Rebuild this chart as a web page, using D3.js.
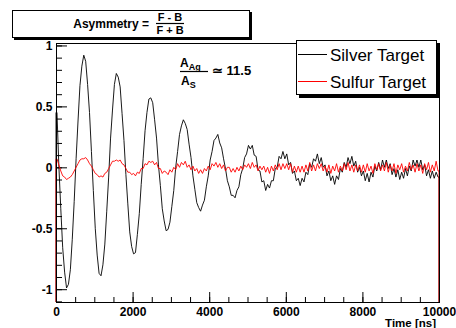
<!DOCTYPE html>
<html>
<head>
<meta charset="utf-8">
<script src="https://cdn.jsdelivr.net/npm/d3@7"></script>
<style>
  body { margin: 0; background: #fff; }
  text { font-family: "Liberation Sans", Arial, Helvetica, sans-serif; }
</style>
</head>
<body>
<div id="chart"></div>
<script>
// bin width in ns, bins start at 0
const binWidth = 50;

// asymmetry per 50 ns bin
const silver = [
  0.45, 0.01, -0.34, -0.66, -0.86, -0.99, -0.96, -0.84, -0.59, -0.28,
  0.07, 0.38, 0.67, 0.83, 0.92, 0.87, 0.68, 0.45, 0.13, -0.19,
  -0.50, -0.72, -0.87, -0.89, -0.80, -0.63, -0.36, -0.08, 0.24, 0.47,
  0.68, 0.77, 0.74, 0.66, 0.44, 0.22, -0.06, -0.30, -0.53, -0.65,
  -0.71, -0.70, -0.55, -0.38, -0.14, 0.07, 0.30, 0.45, 0.56, 0.57,
  0.53, 0.39, 0.24, 0.02, -0.15, -0.34, -0.44, -0.52, -0.51, -0.45,
  -0.32, -0.19, 0.00, 0.13, 0.27, 0.34, 0.39, 0.36, 0.31, 0.19,
  0.08, -0.07, -0.18, -0.29, -0.33, -0.36, -0.31, -0.27, -0.16, -0.07,
  0.06, 0.13, 0.22, 0.24, 0.27, 0.20, 0.16, 0.07, -0.01, -0.11,
  -0.16, -0.23, -0.23, -0.25, -0.19, -0.16, -0.06, -0.01, 0.08, 0.11,
  0.18, 0.15, 0.18, 0.10, 0.09, -0.02, -0.03, -0.12, -0.11, -0.19,
  -0.14, -0.17, -0.11, -0.11, -0.01, 0.00, 0.09, 0.07, 0.13, 0.07,
  0.11, 0.02, 0.04, -0.05, -0.03, -0.11, -0.09, -0.15, -0.09, -0.12,
  -0.04, -0.06, 0.03, 0.00, 0.07, 0.05, 0.11, 0.03, 0.08, 0.00,
  0.02, -0.07, -0.03, -0.11, -0.07, -0.14, -0.07, -0.10, -0.01, -0.04,
  0.04, 0.00, 0.08, 0.03, 0.09, 0.01, 0.05, -0.04, 0.00, -0.07,
  -0.03, -0.11, -0.05, -0.12, -0.04, -0.08, 0.01, -0.03, 0.04, -0.02,
  0.06, 0.00, 0.06, -0.01, 0.03, -0.06, -0.01, -0.08, -0.02, -0.10,
  -0.04, -0.09, -0.01, -0.07, 0.01, -0.03, 0.06, 0.01, 0.06, 0.00,
  0.06, -0.02, 0.02, -0.07, -0.02, -0.09, -0.03, -0.09, -0.04, -0.08
];

const sulfur = [
  0.07, 0.02, -0.03, -0.07, -0.08, -0.10, -0.09, -0.08, -0.06, -0.03,
  0.00, 0.03, 0.06, 0.07, 0.07, 0.08, 0.06, 0.03, 0.01, -0.02,
  -0.05, -0.06, -0.08, -0.07, -0.08, -0.05, -0.04, -0.01, 0.02, 0.05,
  0.05, 0.06, 0.05, 0.06, 0.03, 0.02, -0.01, -0.04, -0.04, -0.06,
  -0.05, -0.07, -0.04, -0.05, -0.01, -0.01, 0.03, 0.02, 0.05, 0.04,
  0.05, 0.02, 0.04, -0.01, -0.01, -0.05, -0.03, -0.04, -0.06, -0.02,
  -0.04, 0.00, -0.02, 0.03, 0.00, 0.04, 0.02, 0.05, 0.00, 0.02,
  -0.02, 0.01, -0.03, -0.01, -0.05, -0.02, -0.05, -0.01, -0.03, 0.01,
  -0.02, 0.03, 0.01, 0.04, 0.00, 0.03, -0.01, 0.02, -0.03, 0.00,
  0.00, -0.04, -0.01, -0.04, 0.00, -0.03, 0.01, -0.02, 0.02, 0.00,
  0.03, -0.01, 0.04, 0.00, 0.02, -0.03, 0.01, -0.02, 0.01, -0.04,
  0.00, -0.05, 0.01, -0.03, 0.02, -0.02, 0.03, -0.02, 0.03, -0.01,
  0.03, -0.02, 0.03, -0.04, 0.01, -0.04, 0.01, -0.04, 0.01, -0.04,
  0.02, -0.03, 0.04, -0.03, 0.02, -0.03, 0.03, -0.01, 0.03, -0.03,
  0.01, -0.04, 0.02, -0.05, 0.01, -0.03, 0.03, -0.04, 0.01, -0.03,
  0.03, -0.02, 0.04, -0.03, 0.02, -0.04, 0.02, -0.03, 0.02, -0.04,
  0.02, -0.04, 0.03, -0.03, 0.01, -0.05, 0.03, -0.02, 0.03, -0.03,
  0.02, -0.03, 0.04, -0.04, 0.02, -0.03, 0.03, -0.05, 0.02, -0.02,
  0.03, -0.04, 0.01, -0.03, 0.04, -0.02, 0.02, -0.04, 0.03, -0.03,
  0.02, -0.05, 0.03, -0.02, 0.04, -0.04, 0.02, -0.03, 0.05, -0.03
];

const xTicks = [0, 2000, 4000, 6000, 8000, 10000];
const xMinorTicks = d3.range(0, 10001, 500);
const yTicks = [-1, -0.5, 0, 0.5, 1];
const yMinorTicks = d3.range(-11, 11).map(d => d / 10);
const seriesNames = ["Silver Target", "Sulfur Target"];
const seriesColors = ["#000000", "#ff0000"];

const width = 456, height = 328;
const margin = { top: 43, right: 17, bottom: 26, left: 56 };
const innerW = width - margin.left - margin.right;
const innerH = height - margin.top - margin.bottom;

const svg = d3.select("#chart").append("svg")
  .attr("width", width)
  .attr("height", height);

// title pave
svg.append("rect").attr("x", 14).attr("y", 12).attr("width", 238).attr("height", 28).attr("fill", "#000");
svg.append("rect").attr("x", 12.5).attr("y", 10.5).attr("width", 237).attr("height", 27)
  .attr("fill", "#fff").attr("stroke", "#000");
svg.append("text").attr("x", 149).attr("y", 28).attr("text-anchor", "end")
  .attr("font-size", 12).attr("font-weight", "bold").text("Asymmetry =");
svg.append("text").attr("x", 170).attr("y", 21).attr("text-anchor", "middle")
  .attr("font-size", 11).attr("font-weight", "bold").text("F - B");
svg.append("line").attr("x1", 156).attr("x2", 184).attr("y1", 23.5).attr("y2", 23.5)
  .attr("stroke", "#000").attr("stroke-width", 1.2);
svg.append("text").attr("x", 170).attr("y", 33.5).attr("text-anchor", "middle")
  .attr("font-size", 11).attr("font-weight", "bold").text("F + B");

const g = svg.append("g")
  .attr("transform", `translate(${margin.left},${margin.top})`);

const x = d3.scaleLinear().domain([0, 10000]).range([0, innerW]);
const y = d3.scaleLinear().domain([-1.105, 1.02]).range([innerH, 0]);

// minor ticks
g.append("g")
  .attr("transform", `translate(0,${innerH})`)
  .call(d3.axisBottom(x).tickValues(xMinorTicks).tickSizeInner(-5).tickSizeOuter(0).tickFormat(""))
  .call(a => a.select(".domain").remove());
g.append("g")
  .call(d3.axisLeft(y).tickValues(yMinorTicks).tickSizeInner(-6).tickSizeOuter(0).tickFormat(""))
  .call(a => a.select(".domain").remove());

// major ticks + labels
g.append("g")
  .attr("transform", `translate(0,${innerH})`)
  .call(d3.axisBottom(x).tickValues(xTicks).tickSizeInner(-10).tickSizeOuter(0)
    .tickPadding(5).tickFormat(d => String(d)))
  .call(a => a.select(".domain").remove())
  .call(a => a.selectAll("text").attr("font-size", 12).attr("font-weight", "bold")
    .attr("fill", "#000").style("font-family", "'Liberation Sans', Arial, sans-serif"));
g.append("g")
  .call(d3.axisLeft(y).tickValues(yTicks).tickSizeInner(-11).tickSizeOuter(0)
    .tickPadding(3.5).tickFormat(d => String(d)))
  .call(a => a.select(".domain").remove())
  .call(a => a.selectAll("text").attr("font-size", 12).attr("font-weight", "bold")
    .attr("fill", "#000").style("font-family", "'Liberation Sans', Arial, sans-serif"));

// histograms: line through bin centres, dropping to the frame bottom at both ends
const line = d3.line()
  .x(d => x(d[0]))
  .y(d => y(d[1]));

function outline(values) {
  const yb = y.domain()[0];
  const n = values.length;
  const pts = [[0, yb], [0, values[0]]];
  values.forEach((v, i) => pts.push([(i + 0.5) * binWidth, v]));
  pts.push([n * binWidth, values[n - 1]]);
  pts.push([n * binWidth, yb]);
  return pts;
}

[silver, sulfur].forEach((vals, k) => {
  g.append("path")
    .datum(outline(vals))
    .attr("fill", "none")
    .attr("stroke", seriesColors[k])
    .attr("stroke-width", 0.9)
    .attr("stroke-linejoin", "round")
    .attr("d", line);
});

// frame
g.append("rect")
  .attr("x", 0.5).attr("y", 0.5)
  .attr("width", innerW).attr("height", innerH)
  .attr("fill", "none").attr("stroke", "#000").attr("stroke-width", 1);

// axis title
svg.append("text")
  .attr("x", margin.left + innerW - 3).attr("y", 327)
  .attr("text-anchor", "end").attr("font-size", 11.5).attr("font-weight", "bold")
  .text("Time [ns]");

// ratio annotation
const ann = svg.append("g").attr("font-weight", "bold");
ann.append("text").attr("x", 180).attr("y", 67).attr("font-size", 12)
  .text("A").append("tspan").attr("font-size", 9).attr("dy", 3).text("Ag");
ann.append("line").attr("x1", 180).attr("x2", 208).attr("y1", 71.5).attr("y2", 71.5)
  .attr("stroke", "#000").attr("stroke-width", 1.2);
ann.append("text").attr("x", 181).attr("y", 85).attr("font-size", 12)
  .text("A").append("tspan").attr("font-size", 9).attr("dy", 3).text("S");
ann.append("text").attr("x", 212).attr("y", 75).attr("font-size", 13)
  .text("\u2243 11.5");

// legend
const lg = svg.append("g");
lg.append("rect").attr("x", 299).attr("y", 44).attr("width", 141).attr("height", 54).attr("fill", "#000");
lg.append("rect").attr("x", 296.5).attr("y", 40.5).attr("width", 140).attr("height", 54)
  .attr("fill", "#fff").attr("stroke", "#000");
seriesNames.forEach((name, i) => {
  const yy = 54.5 + i * 27;
  lg.append("line").attr("x1", 298).attr("x2", 327).attr("y1", yy).attr("y2", yy)
    .attr("stroke", seriesColors[i]).attr("stroke-width", 1);
  lg.append("text").attr("x", 330).attr("y", yy + 6).attr("font-size", 17).text(name);
});
</script>
</body>
</html>
